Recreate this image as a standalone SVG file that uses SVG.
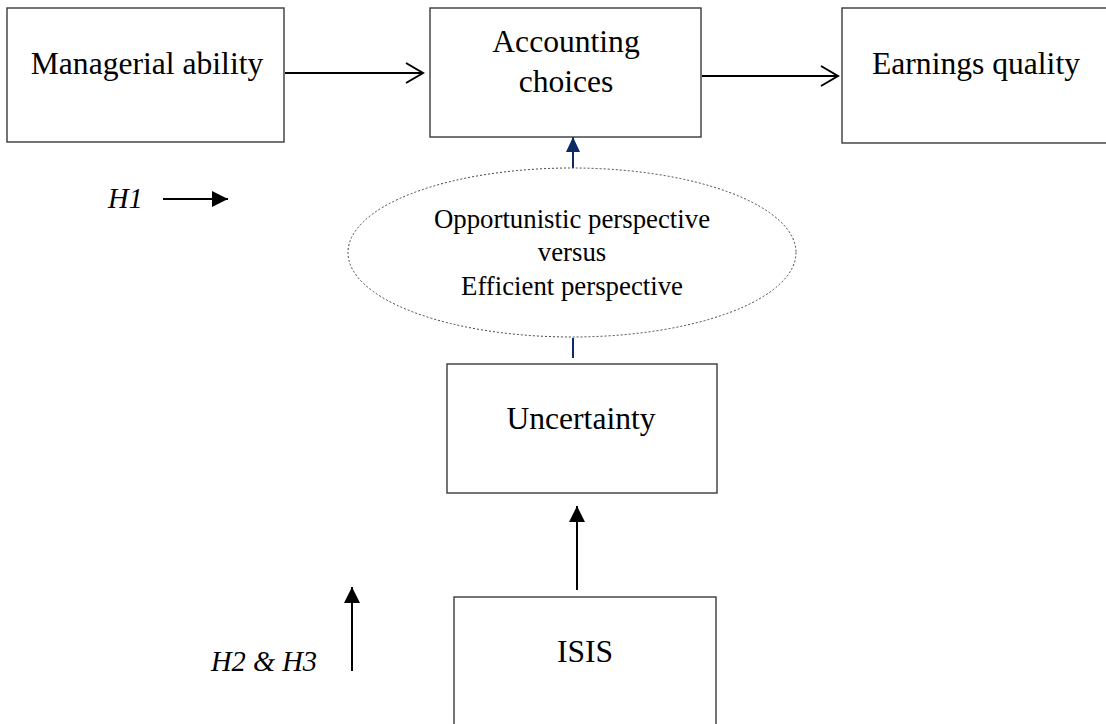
<svg xmlns="http://www.w3.org/2000/svg" width="1106" height="724" viewBox="0 0 1106 724">
<style>
.box{fill:#fff;stroke:#3a3a3a;stroke-width:1.4}
.t{font-family:"Liberation Serif","Times New Roman",serif;font-size:31.6px;fill:#000;text-anchor:middle}
.te{font-family:"Liberation Serif","Times New Roman",serif;font-size:26.8px;fill:#000;text-anchor:middle}
.ti{font-family:"Liberation Serif","Times New Roman",serif;font-size:28.5px;font-style:italic;fill:#000}
.ln{stroke:#000;stroke-width:2;fill:none}
.bl{stroke:#0b2a66;stroke-width:2;fill:none}
</style>
<defs>
<marker id="chev" markerUnits="userSpaceOnUse" markerWidth="20" markerHeight="22" refX="17" refY="11" orient="auto" overflow="visible">
<path d="M0,1 L17,11 L0,21" fill="none" stroke="#000" stroke-width="2"/>
</marker>
<marker id="tri" markerUnits="userSpaceOnUse" markerWidth="16" markerHeight="16" refX="16" refY="8" orient="auto" overflow="visible">
<path d="M0,0 L16,8 L0,16 Z" fill="#000"/>
</marker>
<marker id="trib" markerUnits="userSpaceOnUse" markerWidth="15" markerHeight="14" refX="15" refY="7" orient="auto" overflow="visible">
<path d="M0,0 L15,7 L0,14 Z" fill="#0b2a66"/>
</marker>
</defs>

<g id="connectors">
<line class="ln" x1="285" y1="73" x2="423" y2="73" marker-end="url(#chev)"/>
<line class="ln" x1="702" y1="76" x2="838" y2="76" marker-end="url(#chev)"/>
<line class="bl" x1="573" y1="168" x2="573" y2="137" marker-end="url(#trib)"/>
<line class="bl" x1="573" y1="338" x2="573" y2="358"/>
<line class="ln" x1="577" y1="590" x2="577" y2="506" marker-end="url(#tri)"/>
<line class="ln" x1="163" y1="199" x2="228" y2="199" marker-end="url(#tri)"/>
<line class="ln" x1="352" y1="671" x2="352" y2="587" marker-end="url(#tri)"/>
</g>

<g id="managerial">
<rect class="box" x="7" y="8" width="277" height="134"/>
<text class="t" x="147" y="74">Managerial ability</text>
</g>

<g id="accounting">
<rect class="box" x="430" y="8" width="271" height="129"/>
<text class="t" x="566" y="52">Accounting</text>
<text class="t" x="566" y="92">choices</text>
</g>

<g id="earnings">
<rect class="box" x="842" y="8" width="270" height="135"/>
<text class="t" x="976" y="74">Earnings quality</text>
</g>

<g id="perspective">
<ellipse cx="572" cy="252.5" rx="224" ry="84.5" fill="none" stroke="#444" stroke-width="1" stroke-dasharray="2,2"/>
<text class="te" x="572" y="228">Opportunistic perspective</text>
<text class="te" x="572" y="261">versus</text>
<text class="te" x="572" y="295">Efficient perspective</text>
</g>

<g id="uncertainty">
<rect class="box" x="447" y="364" width="270" height="129"/>
<text class="t" x="581" y="429">Uncertainty</text>
</g>

<g id="isis">
<rect class="box" x="454" y="597" width="262" height="140"/>
<text class="t" x="585" y="662">ISIS</text>
</g>

<g id="h1">
<text class="ti" x="108" y="208">H1</text>
</g>

<g id="h2h3">
<text class="ti" x="211" y="671">H2 &amp; H3</text>
</g>
</svg>
